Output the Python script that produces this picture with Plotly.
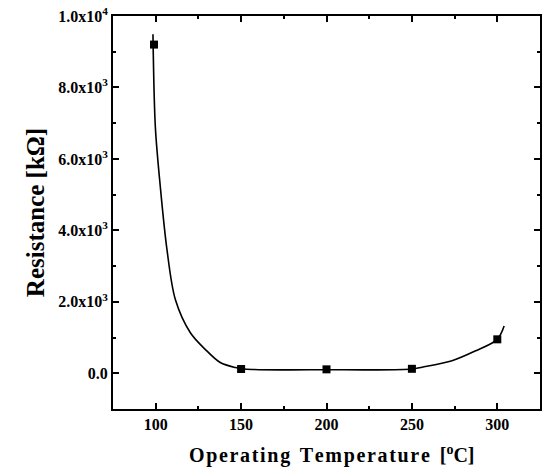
import plotly.graph_objects as go

# measured points
temp = [99, 150, 200, 250, 300]
resistance = [9200, 120, 110, 125, 950]

# fitted curve
curve_x = [98.4, 99.8, 102.7, 106.6, 111.5, 120.3, 129.0, 137.8, 146.6, 152,
           175, 200, 225, 250, 256, 273, 287, 300, 304]
curve_y = [9490, 6890, 5220, 3460, 2065, 1135, 670, 300, 160, 120,
           95, 100, 95, 120, 170, 343, 622, 950, 1320]

y_ticks = [0, 2000, 4000, 6000, 8000, 10000]
y_labels = ["0.0", "2.0x10<sup>3</sup>", "4.0x10<sup>3</sup>", "6.0x10<sup>3</sup>",
            "8.0x10<sup>3</sup>", "1.0x10<sup>4</sup>"]
x_ticks = [100, 150, 200, 250, 300]
x_labels = ["100", "150", "200", "250", "300"]

fig = go.Figure()
fig.add_trace(go.Scatter(x=curve_x, y=curve_y, mode="lines",
                         line=dict(color="black", width=1.6, shape="spline", smoothing=0.9),
                         showlegend=False, hoverinfo="skip"))
fig.add_trace(go.Scatter(x=temp, y=resistance, mode="markers",
                         marker=dict(symbol="square", size=8, color="black"),
                         showlegend=False))

font_family = "Liberation Serif"
hs = "\u200a"
xtitle = hs.join("Operating") + "  " + hs.join("Temperature") + "  " + "[<sup>o</sup>C]"

fig.update_layout(
    width=542, height=471,
    margin=dict(l=113, r=2, t=16, b=62, autoexpand=False),
    paper_bgcolor="white", plot_bgcolor="white",
    font=dict(family=font_family, color="black"),
)
fig.add_annotation(text=xtitle, xref="paper", yref="paper", x=0.5, y=0,
                   xanchor="center", yanchor="middle", xshift=5, yshift=-45,
                   showarrow=False,
                   font=dict(family=font_family, size=20, color="black", weight="bold"))
fig.update_xaxes(
    range=[75, 325], tickvals=x_ticks, ticktext=x_labels, automargin=False,
    tickfont=dict(family=font_family, size=16, color="black", weight="bold"),
    ticks="inside", ticklen=6, tickwidth=1.5, tickcolor="black",
    minor=dict(tickvals=[125, 175, 225, 275], ticks="inside", ticklen=3, tickcolor="black"),
    showline=True, linecolor="black", linewidth=2, mirror="ticks",
    showgrid=False, zeroline=False,
)
fig.update_yaxes(
    range=[-1000, 10000], tickvals=y_ticks, ticktext=y_labels, automargin=False,
    tickfont=dict(family=font_family, size=16, color="black", weight="bold"),
    ticks="inside", ticklen=6, tickwidth=1.5, tickcolor="black",
    minor=dict(tickvals=[1000, 3000, 5000, 7000, 9000], ticks="inside", ticklen=3, tickcolor="black"),
    showline=True, linecolor="black", linewidth=2, mirror="ticks",
    showgrid=False, zeroline=False,
    title=dict(text="Resistance [kΩ]",
               font=dict(family=font_family, size=25, color="black", weight="bold"),
               standoff=6),
)
fig.write_html("out.html")
